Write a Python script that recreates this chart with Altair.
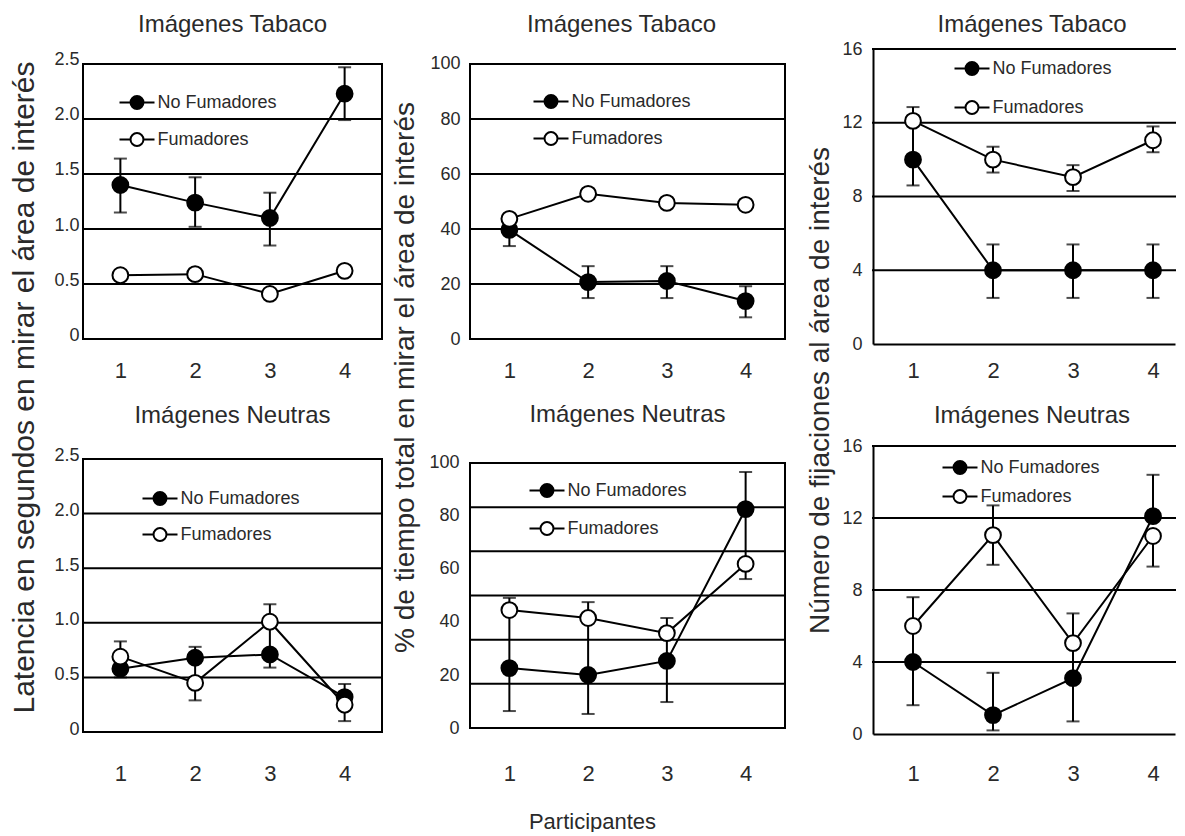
import altair as alt
import pandas as pd

FONT = "Liberation Sans"
TXT = "#2a2a2a"

participants = [1, 2, 3, 4]
groups = ["No Fumadores", "Fumadores"]

# ---------- Latencia (s) - Imágenes Tabaco
lat_tab_nf = [1.40, 1.24, 1.10, 2.23]
lat_tab_nf_lo = [1.15, 1.02, 0.85, 1.99]
lat_tab_nf_hi = [1.64, 1.47, 1.33, 2.47]
lat_tab_f = [0.58, 0.59, 0.41, 0.62]
lat_tab_f_lo = [None, None, None, None]
lat_tab_f_hi = [None, None, None, None]

# ---------- % tiempo - Imágenes Tabaco
pct_tab_nf = [39.7, 20.7, 21.1, 13.8]
pct_tab_nf_lo = [33.8, 14.9, 14.9, 7.9]
pct_tab_nf_hi = [43.7, 26.5, 26.5, 19.2]
pct_tab_f = [43.7, 52.8, 49.5, 48.8]
pct_tab_f_lo = [None, None, None, None]
pct_tab_f_hi = [None, None, None, None]

# ---------- Fijaciones - Imágenes Tabaco
fij_tab_nf = [10.0, 4.0, 4.0, 4.0]
fij_tab_nf_lo = [8.6, 2.5, 2.5, 2.5]
fij_tab_nf_hi = [12.1, 5.4, 5.4, 5.4]
fij_tab_f = [12.1, 10.0, 9.05, 11.05]
fij_tab_f_lo = [None, 9.3, 8.3, 10.4]
fij_tab_f_hi = [12.85, 10.7, 9.7, 11.8]

# ---------- Latencia (s) - Imágenes Neutras
lat_neu_nf = [0.58, 0.68, 0.71, 0.32]
lat_neu_nf_lo = [0.50, None, 0.59, None]
lat_neu_nf_hi = [None, 0.78, 1.01, 0.44]
lat_neu_f = [0.69, 0.45, 1.01, 0.25]
lat_neu_f_lo = [None, 0.29, None, 0.10]
lat_neu_f_hi = [0.83, 0.68, 1.17, None]

# ---------- % tiempo - Imágenes Neutras
pct_neu_nf = [22.6, 20.0, 25.3, 82.6]
pct_neu_nf_lo = [6.4, 5.3, 9.8, 61.9]
pct_neu_nf_hi = [44.5, 41.5, 35.8, 96.6]
pct_neu_f = [44.5, 41.5, 35.8, 61.9]
pct_neu_f_lo = [None, None, None, 56.2]
pct_neu_f_hi = [49.1, 47.5, 41.5, None]

# ---------- Fijaciones - Imágenes Neutras
fij_neu_nf = [4.0, 1.05, 3.1, 12.1]
fij_neu_nf_lo = [1.6, 0.2, 0.7, None]
fij_neu_nf_hi = [6.0, 3.4, 5.05, 14.4]
fij_neu_f = [6.0, 11.05, 5.05, 11.0]
fij_neu_f_lo = [None, 9.4, None, 9.3]
fij_neu_f_hi = [7.6, 12.7, 6.7, None]

# axis ticks / gridlines
lat_ticks = [0, 0.5, 1.0, 1.5, 2.0, 2.5]
pct_ticks = [0, 20, 40, 60, 80, 100]
fij_ticks = [0, 4, 8, 12, 16]
lat_grid = [0.5, 1.0, 1.5, 2.0]
pct_grid_tab = [20, 40, 60, 80]
pct_grid_neu = [100 / 6, 200 / 6, 300 / 6, 400 / 6, 500 / 6]
fij_grid = [4, 8, 12, 16]

PATH = ("M-1,0L-0.37,0M0.37,0L1,0M-0.37,0A0.37,0.37,0,1,1,0.37,0"
        "A0.37,0.37,0,1,1,-0.37,0Z")


def frame(nf, nf_lo, nf_hi, f, f_lo, f_hi):
    rows = []
    for g, ys, los, his in [(groups[0], nf, nf_lo, nf_hi), (groups[1], f, f_lo, f_hi)]:
        for i, x in enumerate(participants):
            rows.append({"x": x, "group": g, "y": ys[i], "lo": los[i], "hi": his[i]})
    return pd.DataFrame(rows)


def make_panel(df, title, ydom, yvals, ydec, grid_vals, box, width, height, xdom,
               leg_x, leg_y, leg_pad, title_offset, title_dx, xlab_pad, ylab_pad, ylab_off,
               ytitle=None, ytx=0, yty=0, ytsize=28, xtitle=None, xtx=0, xty=0):
    framed = box is not None
    ykw = dict(values=yvals, grid=False, ticks=False, domain=not framed,
               domainColor="black", domainWidth=2, labelFont=FONT, labelFontSize=18,
               labelColor=TXT, labelPadding=ylab_pad, labelOffset=ylab_off,
               labelOverlap=False)
    if ydec:
        ykw["labelExpr"] = "datum.value == 0 ? '0' : format(datum.value, '.1f')"
    else:
        ykw["format"] = "d"
    if ytitle:
        ykw.update(title=ytitle, titleX=ytx, titleY=yty, titleAngle=270,
                   titleAlign="center", titleBaseline="alphabetic", titleFont=FONT,
                   titleFontSize=ytsize, titleFontWeight="normal", titleColor=TXT)
    else:
        ykw["title"] = None
    yaxis = alt.Axis(**ykw)

    xkw = dict(values=participants, format="d", grid=False, ticks=False,
               domain=not framed, domainColor="black", domainWidth=2,
               labelFont=FONT, labelFontSize=22, labelColor=TXT,
               labelPadding=xlab_pad, labelFlush=False, labelOverlap=False)
    if xtitle:
        xkw.update(title=xtitle, titleX=xtx, titleY=xty, titleAlign="center",
                   titleBaseline="alphabetic", titleFont=FONT, titleFontSize=22,
                   titleFontWeight="normal", titleColor=TXT)
    else:
        xkw["title"] = None
    xaxis = alt.Axis(**xkw)

    ysc = alt.Scale(domain=ydom, nice=False, zero=False)
    xsc = alt.Scale(domain=xdom, nice=False, zero=False)
    X = alt.X("x:Q", scale=xsc, axis=xaxis)

    hlines = list(grid_vals) + (list(box) if framed else [])
    layers = [alt.Chart(pd.DataFrame({"g": hlines})).mark_rule(
        color="black", strokeWidth=2, strokeCap="square").encode(
        y=alt.Y("g:Q", scale=ysc, axis=yaxis))]
    if framed:
        sides = pd.DataFrame({"x": [xdom[0], xdom[1]], "b0": [box[0]] * 2, "b1": [box[1]] * 2})
        layers.append(alt.Chart(sides).mark_rule(color="black", strokeWidth=2,
                                                 strokeCap="square").encode(
            x=X, y=alt.Y("b0:Q", scale=ysc, axis=yaxis), y2="b1:Q"))

    base = alt.Chart(df)
    layers += [
        base.transform_filter("isValid(datum.lo)").mark_rule(
            color="black", strokeWidth=2).encode(
            x=X, y=alt.Y("y:Q", scale=ysc, axis=yaxis), y2="lo:Q"),
        base.transform_filter("isValid(datum.hi)").mark_rule(
            color="black", strokeWidth=2).encode(
            x=X, y=alt.Y("y:Q", scale=ysc, axis=yaxis), y2="hi:Q"),
        base.transform_filter("isValid(datum.lo)").mark_tick(
            color="black", thickness=2, size=13, orient="horizontal").encode(
            x=X, y=alt.Y("lo:Q", scale=ysc, axis=yaxis)),
        base.transform_filter("isValid(datum.hi)").mark_tick(
            color="black", thickness=2, size=13, orient="horizontal").encode(
            x=X, y=alt.Y("hi:Q", scale=ysc, axis=yaxis)),
        base.mark_line(color="black", strokeWidth=2).encode(
            x=X, y=alt.Y("y:Q", scale=ysc, axis=yaxis), detail="group:N"),
        base.mark_circle(size=250, stroke="black", strokeWidth=2, opacity=1).encode(
            x=X, y=alt.Y("y:Q", scale=ysc, axis=yaxis),
            fill=alt.Fill("group:N", scale=alt.Scale(domain=groups, range=["black", "white"]),
                          legend=alt.Legend(title=None, orient="none", legendX=leg_x,
                                            legendY=leg_y, symbolType=PATH, symbolSize=1225,
                                            symbolStrokeColor="black", symbolStrokeWidth=2,
                                            symbolOpacity=1, labelFont=FONT,
                                            labelFontSize=18, labelColor=TXT, labelOffset=2,
                                            rowPadding=leg_pad, padding=0, offset=0))),
    ]

    return alt.layer(*layers).properties(
        width=width, height=height, view=alt.ViewBackground(stroke=None),
        title=alt.TitleParams(text=title, font=FONT, fontSize=24, fontWeight="normal",
                              color=TXT, anchor="middle", frame="group",
                              offset=title_offset, baseline="alphabetic", dx=title_dx))


T_TAB = "Imágenes Tabaco"
T_NEU = "Imágenes Neutras"

H1, H2 = 295, 288   # row heights

p1 = make_panel(frame(lat_tab_nf, lat_tab_nf_lo, lat_tab_nf_hi, lat_tab_f, lat_tab_f_lo, lat_tab_f_hi),
                T_TAB, [-0.045, 2.636], lat_ticks, True, lat_grid, (0, 2.5), 299, H1, [0.5, 4.5],
                35.5, 35, 8, -7, 0, 16, 4, -4,
                ytitle="Latencia en segundos en mirar el área de interés", ytx=-50, yty=338,
                ytsize=30)
p2 = make_panel(frame(pct_tab_nf, pct_tab_nf_lo, pct_tab_nf_hi, pct_tab_f, pct_tab_f_lo, pct_tab_f_hi),
                T_TAB, [-1.8, 105.45], pct_ticks, False, pct_grid_tab, (0, 100), 315, H1, [0.5, 4.5],
                62.5, 34, 8, -7, -6, 16, 10, 0,
                ytitle="% de tiempo total en mirar el área de interés", ytx=-57, yty=328)
p3 = make_panel(frame(fij_tab_nf, fij_tab_nf_lo, fij_tab_nf_hi, fij_tab_f, fij_tab_f_lo, fij_tab_f_hi),
                T_TAB, [0, 16], fij_ticks, False, fij_grid, None, 302, H1, [0.5, 4.275],
                80.5, 1, 10, -16, 8, 16, 11, 0,
                ytitle="Número de fijaciones al área de interés", ytx=-45, yty=341)
p4 = make_panel(frame(lat_neu_nf, lat_neu_nf_lo, lat_neu_nf_hi, lat_neu_f, lat_neu_f_lo, lat_neu_f_hi),
                T_NEU, [-0.018, 2.619], lat_ticks, True, lat_grid, (0, 2.5), 299, H2, [0.5, 4.5],
                58.5, 34, 7, -0.5, 0, 29, 4, -3)
p5 = make_panel(frame(pct_neu_nf, pct_neu_nf_lo, pct_neu_nf_hi, pct_neu_f, pct_neu_f_lo, pct_neu_f_hi),
                T_NEU, [-2.26, 106.4], pct_ticks, False, pct_grid_neu, (0, 100), 315, H2, [0.5, 4.5],
                58.5, 26, 9, 0, 0, 29, 11, 0,
                xtitle="Participantes", xtx=122, xty=94)
p6 = make_panel(frame(fij_neu_nf, fij_neu_nf_lo, fij_neu_nf_hi, fij_neu_f, fij_neu_f_lo, fij_neu_f_hi),
                T_NEU, [0, 16], fij_ticks, False, fij_grid, None, 302, H2, [0.5, 4.275],
                68.5, 3, 0, -10, 8, 29, 11, 0)

chart = alt.concat(p1, p2, p3, p4, p5, p6, columns=3,
                   spacing={"row": 102, "column": 88}, bounds="flush"
                   ).resolve_scale(x="independent", y="independent", fill="independent"
                   ).resolve_legend(fill="independent").properties(
    padding={"left": 0, "top": 5, "right": 0, "bottom": 0},
    background="white",
).configure(font=FONT)

chart.save("out.html", embed_options={"renderer": "svg", "actions": False})
